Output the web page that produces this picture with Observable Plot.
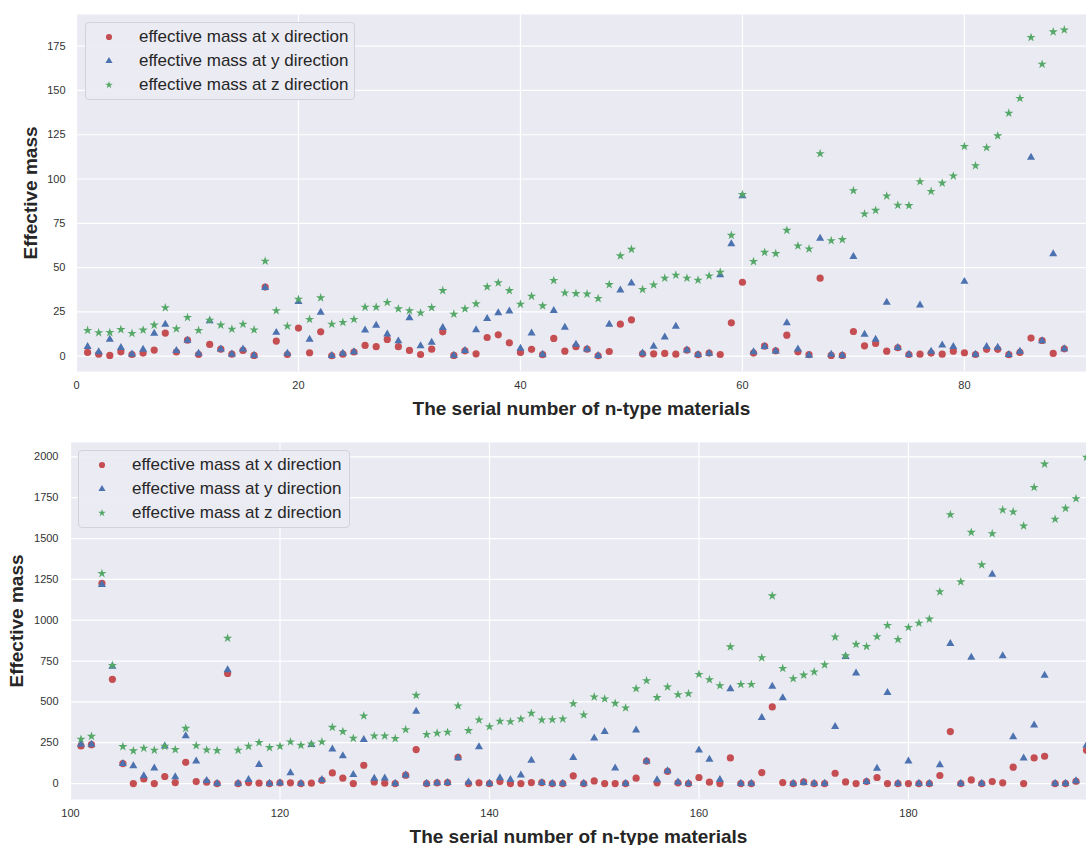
<!DOCTYPE html>
<html>
<head>
<meta charset="utf-8">
<script src="https://cdn.jsdelivr.net/npm/d3@7"></script>
<script src="https://cdn.jsdelivr.net/npm/@observablehq/plot@0.6"></script>
<style>
  body { margin: 0; background: #fff; font-family: "Liberation Sans", Arial, sans-serif; }
  #wrap { position: relative; width: 1086px; height: 845px; overflow: hidden; background: #fff; }
  .panel { position: absolute; left: 0; }
  .legend { position: absolute; box-sizing: border-box; background: rgba(234,234,242,0.88);
            border: 1px solid #d2d2da; border-radius: 4px; color: #262626; font-size: 17px; }
  .legend .row { position: absolute; left: 0; height: 22px; line-height: 22px; white-space: nowrap; }
  .legend svg { position: absolute; top: 4px; }
  .legend span { position: absolute; top: 0; }
</style>
</head>
<body>
<div id="wrap"></div>
<script>
// ---------- Data ----------
const seriesNames = ["effective mass at x direction", "effective mass at y direction", "effective mass at z direction"];
const colors = ["#C44E52", "#4C72B0", "#55A868"];
const symbols = ["circle", "triangle", "star"];
const xLabel = "The serial number of n-type materials";
const yLabel = "Effective mass";

// Top panel: materials 1..89
const topFirstSerial = 1;
const topX = [2.1,1.1,0.4,2.4,0.9,1.7,3.4,13,2.3,9,0.9,6.6,3.9,1.1,3.2,0.4,39,8.5,0.9,15.8,1.9,13.7,0.2,1.1,2.3,6,5.3,9.4,5.3,3.2,0.9,3.9,13.7,0.4,3,1.3,10.5,12,7.5,2.1,3.8,0.8,10,2.8,5.3,3.9,0.2,2.6,18,20.5,1.3,1.3,1.5,1.1,3.4,0.8,1.7,0.9,18.8,41.7,1.7,5.6,3,11.8,2.4,0.8,44,0.4,0.4,13.9,5.8,7.1,2.8,4.7,0.9,1.1,1.7,1.1,2.8,1.9,0.9,3.8,3.8,0.8,2.1,10.2,8.8,1.5,4.1];
const topY = [5.3,2.4,9.4,4.7,1.1,3.8,12.8,17.9,3,8.8,1.5,19.9,3.9,1.1,3.9,0.4,38.7,13.3,1.5,30.8,9.4,24.6,0.2,1.5,2.4,14.7,17.3,12.4,8.5,21.6,5.8,7.7,16,0.4,3,14.8,21.2,24.4,25.4,4.3,13,0.9,25.6,16.2,6.6,3.9,0.2,17.9,37.2,41.2,1.7,5.5,10.7,16.7,3.4,0.8,1.5,45.9,63.3,90.4,2.4,5.3,2.8,18.8,3.9,0.4,66.4,0.9,0.4,56.2,12.2,9.4,30.3,4.7,0.9,28.8,2.6,6.2,5.3,42.1,0.9,5.3,4.9,0.8,2.6,112.2,8.6,57.7,4.1];
const topZ = [14.5,13.2,13.3,15,12.8,14.7,17.5,27.3,15.4,21.8,14.5,20.3,17.5,15.2,18,14.8,53.6,25.6,16.9,32.1,20.7,32.9,18,19,20.7,27.6,27.6,30.3,26.7,25.6,24.4,27.4,37,23.7,26.7,29.5,39.1,41.4,37,29.3,33.8,28.4,42.7,35.7,35.3,35,32.5,40.4,56.6,60.3,37.6,40.2,44,45.7,44,42.9,45.3,47.4,68.2,91.2,53.4,58.6,57.9,71,62.2,60.5,114.3,65.2,65.8,93.4,80.3,82.3,90.4,85.2,85,98.5,93,97.7,101.7,118.4,107.5,117.7,124.4,137.2,145.5,179.9,164.8,183.1,184.2];
const topXTicks = [0, 20, 40, 60, 80];
const topYTicks = [0, 25, 50, 75, 100, 125, 150, 175];

// Bottom panel: materials 101..197
const botFirstSerial = 101;
const botX = [230,238,1225,638,122,0,28,0,43,6,130,12,8,0,674,0,6,2,0,4,4,0,2,20,65,33,0,112,10,2,0,51,208,0,4,6,161,0,4,0,12,0,0,6,6,0,0,47,0,16,0,0,0,33,137,4,75,4,0,37,8,0,157,0,0,67,469,6,0,10,0,0,63,10,0,12,37,0,0,0,0,0,49,318,0,22,0,12,4,100,0,157,167,0,0,14,204];
const botY = [240,240,1218,717,122,108,47,94,228,41,291,137,18,0,695,0,24,116,0,4,65,0,238,24,210,169,55,269,31,33,0,51,442,0,4,6,157,8,224,0,35,24,51,141,6,0,0,159,0,277,318,94,0,326,137,22,77,8,0,204,147,24,579,0,0,403,595,524,0,6,0,0,348,776,676,12,92,556,0,137,0,0,114,856,0,772,0,1280,782,285,155,357,662,0,0,16,234];
const botZ = [271,289,1286,723,226,200,216,204,228,208,338,232,206,202,890,204,228,251,220,228,255,234,242,255,344,318,277,414,291,291,275,330,540,300,308,314,475,324,389,348,381,379,395,430,389,391,395,489,420,530,518,491,463,581,630,526,591,544,550,668,636,599,837,607,607,770,1149,705,642,664,683,727,897,782,852,839,899,968,882,956,982,1007,1174,1646,1235,1538,1339,1530,1675,1663,1577,1813,1956,1618,1685,1744,1997];
const botXTicks = [100, 120, 140, 160, 180];
const botYTicks = [0, 250, 500, 750, 1000, 1250, 1500, 1750, 2000];

// ---------- Helpers ----------
const FONT = "'Liberation Sans', Arial, sans-serif";
const rowsOf = (vals, first) => vals.map((v, i) => ({n: first + i, v}));
const markerR = {circle: 3.6, triangle: 3.0, star: 2.9};

function panel(o) {
  const sets = [rowsOf(o.mx, o.first), rowsOf(o.my, o.first), rowsOf(o.mz, o.first)];
  const svg = Plot.plot({
    width: 1086, height: o.height,
    marginTop: o.mt, marginBottom: o.mb, marginLeft: o.ml, marginRight: 0,
    style: {fontFamily: FONT, fontSize: "11px", color: "#333", background: "transparent", overflow: "visible"},
    x: {domain: o.xDomain},
    y: {domain: o.yDomain},
    marks: [
      Plot.frame({fill: "#EAEAF2", stroke: "none"}),
      Plot.gridX(o.xTicks, {stroke: "white", strokeOpacity: 1, strokeWidth: 1.2}),
      Plot.gridY(o.yTicks, {stroke: "white", strokeOpacity: 1, strokeWidth: 1.2}),
      Plot.axisX(o.xTicks, {tickSize: 0, tickPadding: 10, tickFormat: d => String(d), label: xLabel, labelArrow: "none", labelAnchor: "center", labelOffset: o.xLabelOffset, fill: "#333"}),
      Plot.axisY(o.yTicks, {tickSize: 0, tickPadding: o.yPad, tickFormat: d => String(d), label: yLabel, labelArrow: "none", labelAnchor: "center", labelOffset: o.yLabelOffset, fill: "#333"}),
      ...sets.map((d, k) => Plot.dot(d, {x: "n", y: "v", symbol: symbols[k], r: markerR[symbols[k]], fill: colors[k], stroke: "none", clip: true}))
    ]
  });
  d3.select(svg).selectAll('[aria-label="x-axis label"] text, [aria-label="y-axis label"] text')
    .style("font-size", "19px").style("font-weight", "bold").attr("fill", "#262626")
    .each(function() {
      const t = d3.select(this);
      const tx = t.text().replace(/\s*[\u2190-\u2193]\s*/g, "").trim();
      if (t.select("tspan").empty()) t.text(tx);
    });
  return svg;
}

function legend(left, top, width, height, rowTops) {
  const div = document.createElement("div");
  div.className = "legend";
  Object.assign(div.style, {left: left + "px", top: top + "px", width: width + "px", height: height + "px"});
  seriesNames.forEach((name, k) => {
    const row = document.createElement("div");
    row.className = "row";
    row.style.top = rowTops[k] + "px";
    const s = d3.create("svg").attr("width", 14).attr("height", 14).style("left", "16px");
    const sym = [d3.symbolCircle, d3.symbolTriangle, d3.symbolStar][k];
    const size = [30, 22, 18][k];
    s.append("path").attr("transform", "translate(7,7)").attr("d", d3.symbol(sym, size)()).attr("fill", colors[k]);
    row.appendChild(s.node());
    const t = document.createElement("span");
    t.style.left = "53px";
    t.textContent = name;
    row.appendChild(t);
    div.appendChild(row);
  });
  return div;
}

const wrap = document.getElementById("wrap");

const top1 = panel({mx: topX, my: topY, mz: topZ, first: topFirstSerial, height: 420, mt: 14, mb: 49, ml: 76,
  xDomain: [0, 91], yDomain: [-8.7, 192.9], xTicks: topXTicks, yTicks: topYTicks, yPad: 11, xLabelOffset: 43, yLabelOffset: 53});
const d1 = document.createElement("div"); d1.className = "panel"; d1.style.top = "0px"; d1.appendChild(top1); wrap.appendChild(d1);

const bot = panel({mx: botX, my: botY, mz: botZ, first: botFirstSerial, height: 425, mt: 22, mb: 46, ml: 70,
  xDomain: [100, 197], yDomain: [-97.8, 2088], xTicks: botXTicks, yTicks: botYTicks, yPad: 12, xLabelOffset: 43, yLabelOffset: 61});
const d2 = document.createElement("div"); d2.className = "panel"; d2.style.top = "420px"; d2.appendChild(bot); wrap.appendChild(d2);

wrap.appendChild(legend(85, 22, 270, 78, [3, 27, 51]));
wrap.appendChild(legend(78, 450, 272, 78, [3, 27, 51]));
</script>
</body>
</html>
